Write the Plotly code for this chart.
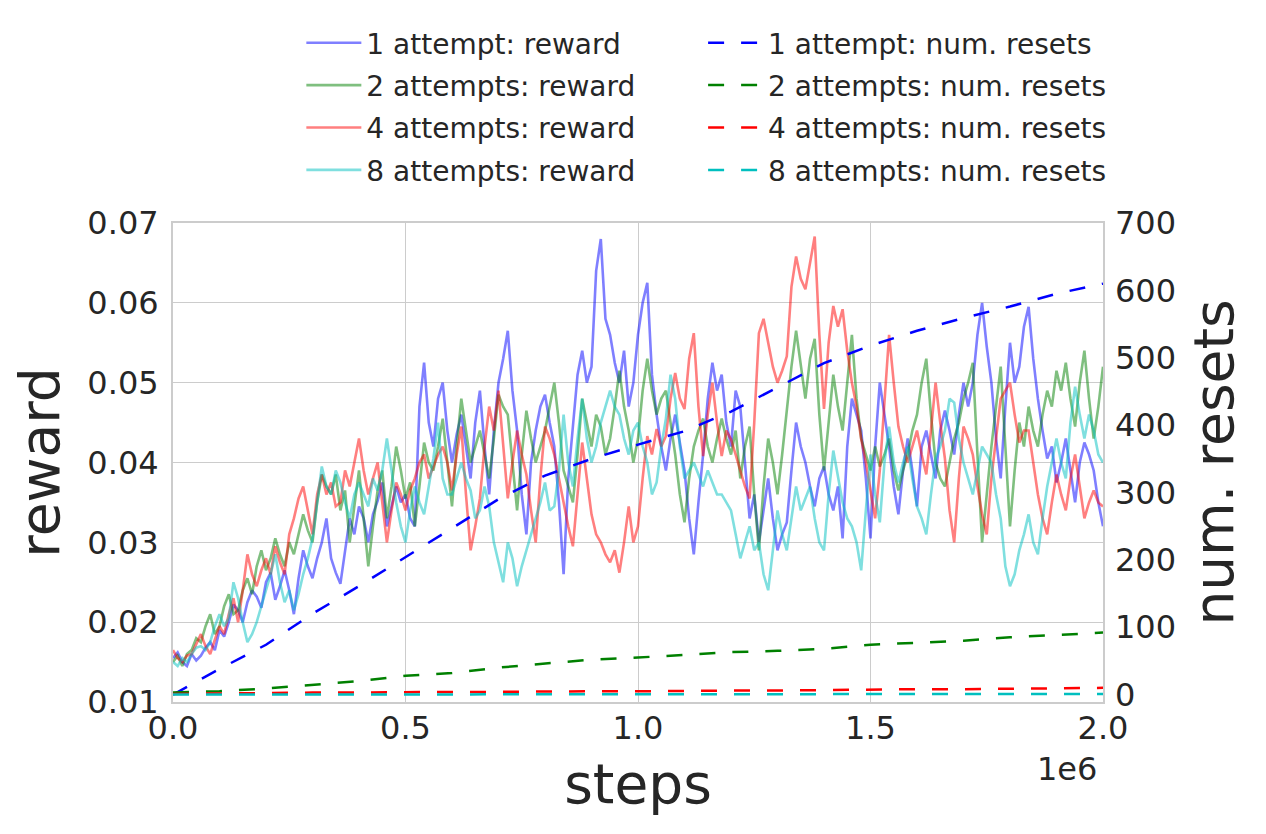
import plotly.graph_objects as go

# sample positions (environment steps)
steps = list(range(0, 2_000_001, 10_000))
reset_steps = list(range(0, 2_000_001, 100_000))

labels = ["1 attempt", "2 attempts", "4 attempts", "8 attempts"]

reward_1 = [
    .0155, .0162, .0150, .0145, .0160, .0152, .0158, .0168, .0175, .0165,
    .0190, .0182, .0200, .0222, .0215, .0200, .0225, .0240, .0232, .0218,
    .0250, .0262, .0228, .0245, .0265, .0240, .0210, .0255, .0290, .0270,
    .0255, .0280, .0300, .0330, .0280, .0262, .0248, .0290, .0330, .0310,
    .0345, .0330, .0300, .0335, .0352, .0375, .0320, .0345, .0370, .0350,
    .0360, .0330, .0320, .0470, .0525, .0450, .0420, .0480, .0500, .0440,
    .0400, .0435, .0460, .0420, .0380, .0450, .0490, .0420, .0360, .0440,
    .0500, .0530, .0565, .0490, .0440, .0360, .0310, .0400, .0440, .0470,
    .0485, .0450, .0420, .0350, .0260, .0380, .0445, .0510, .0540, .0500,
    .0520, .0640, .0680, .0580, .0560, .0525, .0500, .0540, .0470, .0500,
    .0560, .0600, .0625, .0510, .0460, .0420, .0390, .0430, .0460, .0425,
    .0390, .0330, .0285, .0350, .0410, .0480, .0525, .0490, .0510, .0450,
    .0420, .0490, .0470, .0400, .0330, .0360, .0300, .0340, .0380, .0330,
    .0290, .0310, .0325, .0390, .0450, .0420, .0400, .0370, .0345, .0380,
    .0395, .0360, .0340, .0370, .0305, .0420, .0480, .0460, .0440, .0380,
    .0305, .0420, .0500, .0460, .0420, .0370, .0335, .0390, .0430, .0390,
    .0345, .0420, .0440, .0410, .0380, .0440, .0465, .0440, .0410, .0460,
    .0500, .0470, .0500, .0560, .0600, .0545, .0500, .0430, .0380, .0470,
    .0550, .0500, .0520, .0570, .0595, .0530, .0480, .0440, .0405, .0420,
    .0375, .0400, .0430, .0390, .0350, .0400, .0425, .0410, .0390, .0350,
    .0320,
]
reward_2 = [
    .0150, .0158, .0145, .0160, .0165, .0180, .0175, .0195, .0210, .0185,
    .0195, .0220, .0235, .0210, .0215, .0240, .0255, .0235, .0270, .0290,
    .0265, .0280, .0305, .0285, .0270, .0300, .0285, .0310, .0335, .0315,
    .0300, .0350, .0385, .0370, .0360, .0385, .0340, .0365, .0300, .0345,
    .0390, .0330, .0270, .0320, .0365, .0390, .0330, .0370, .0420, .0390,
    .0355, .0375, .0320, .0370, .0425, .0400, .0390, .0420, .0455, .0400,
    .0345, .0420, .0480, .0440, .0400, .0420, .0440, .0410, .0380, .0430,
    .0485, .0470, .0460, .0400, .0340, .0410, .0465, .0430, .0400, .0420,
    .0440, .0470, .0500, .0450, .0390, .0370, .0350, .0410, .0480, .0450,
    .0420, .0460, .0445, .0410, .0430, .0470, .0515, .0470, .0440, .0400,
    .0430, .0490, .0530, .0490, .0460, .0480, .0490, .0450, .0410, .0360,
    .0325, .0380, .0420, .0440, .0455, .0420, .0400, .0430, .0455, .0430,
    .0410, .0440, .0380, .0420, .0445, .0360, .0290, .0370, .0430, .0400,
    .0360, .0410, .0465, .0520, .0565, .0520, .0480, .0530, .0555, .0460,
    .0390, .0450, .0510, .0470, .0440, .0500, .0560, .0480, .0430, .0410,
    .0390, .0420, .0395, .0410, .0430, .0390, .0365, .0390, .0410, .0440,
    .0460, .0500, .0530, .0460, .0400, .0380, .0370, .0400, .0430, .0450,
    .0480, .0500, .0525, .0410, .0300, .0360, .0420, .0470, .0520, .0420,
    .0320, .0390, .0450, .0420, .0470, .0440, .0420, .0460, .0490, .0470,
    .0515, .0490, .0525, .0480, .0445, .0500, .0540, .0480, .0430, .0470,
    .0520,
]
reward_4 = [
    .0165, .0155, .0150, .0158, .0160, .0172, .0185, .0170, .0160, .0178,
    .0195, .0185, .0210, .0230, .0200, .0240, .0285, .0260, .0245, .0265,
    .0280, .0260, .0295, .0275, .0260, .0310, .0330, .0355, .0370, .0340,
    .0310, .0360, .0385, .0360, .0375, .0345, .0350, .0390, .0370, .0400,
    .0430, .0390, .0360, .0380, .0400, .0350, .0300, .0340, .0375, .0360,
    .0340, .0365, .0380, .0400, .0410, .0380, .0395, .0410, .0420, .0400,
    .0365, .0410, .0445, .0360, .0290, .0320, .0355, .0420, .0470, .0440,
    .0490, .0420, .0355, .0400, .0440, .0410, .0385, .0340, .0300, .0380,
    .0445, .0430, .0410, .0380, .0350, .0320, .0295, .0360, .0425, .0380,
    .0335, .0310, .0300, .0285, .0275, .0290, .0262, .0300, .0345, .0300,
    .0320, .0380, .0433, .0410, .0442, .0420, .0433, .0480, .0512, .0480,
    .0467, .0530, .0562, .0470, .0408, .0460, .0500, .0450, .0408, .0440,
    .0429, .0410, .0390, .0370, .0355, .0450, .0562, .0580, .0550, .0520,
    .0500, .0515, .0533, .0620, .0658, .0630, .0617, .0650, .0683, .0560,
    .0467, .0550, .0596, .0570, .0592, .0540, .0500, .0470, .0429, .0400,
    .0367, .0330, .0390, .0480, .0560, .0500, .0445, .0420, .0400, .0420,
    .0440, .0410, .0385, .0440, .0500, .0450, .0405, .0340, .0300, .0380,
    .0445, .0430, .0410, .0370, .0335, .0310, .0380, .0430, .0480, .0490,
    .0500, .0460, .0425, .0440, .0440, .0400, .0360, .0330, .0310, .0350,
    .0385, .0360, .0340, .0380, .0410, .0370, .0330, .0350, .0365, .0350,
    .0345,
]
reward_8 = [
    .0150, .0145, .0155, .0150, .0160, .0168, .0170, .0165, .0175, .0195,
    .0210, .0195, .0205, .0250, .0230, .0200, .0175, .0185, .0200, .0220,
    .0240, .0260, .0285, .0250, .0225, .0240, .0215, .0235, .0260, .0280,
    .0305, .0350, .0395, .0370, .0360, .0390, .0375, .0350, .0330, .0360,
    .0375, .0360, .0345, .0380, .0365, .0390, .0430, .0390, .0350, .0320,
    .0300, .0340, .0370, .0350, .0335, .0370, .0405, .0450, .0380, .0360,
    .0360, .0380, .0400, .0380, .0365, .0330, .0340, .0370, .0345, .0300,
    .0275, .0250, .0300, .0280, .0245, .0270, .0290, .0310, .0330, .0350,
    .0375, .0340, .0345, .0390, .0460, .0400, .0370, .0430, .0480, .0430,
    .0400, .0420, .0450, .0470, .0490, .0470, .0460, .0430, .0410, .0440,
    .0450, .0420, .0400, .0360, .0375, .0420, .0455, .0510, .0480, .0420,
    .0380, .0390, .0400, .0385, .0370, .0390, .0375, .0360, .0360, .0350,
    .0340, .0310, .0280, .0300, .0320, .0290, .0300, .0260, .0240, .0290,
    .0340, .0310, .0290, .0330, .0370, .0340, .0355, .0370, .0330, .0300,
    .0290, .0360, .0415, .0380, .0350, .0330, .0320, .0300, .0265, .0340,
    .0410, .0360, .0325, .0400, .0445, .0400, .0375, .0400, .0420, .0380,
    .0345, .0330, .0310, .0360, .0405, .0420, .0440, .0480, .0475, .0430,
    .0400, .0380, .0360, .0390, .0420, .0410, .0400, .0360, .0330, .0270,
    .0245, .0260, .0290, .0310, .0335, .0300, .0285, .0330, .0370, .0400,
    .0430, .0400, .0380, .0450, .0495, .0460, .0430, .0460, .0440, .0410,
    .0400,
]

resets_1 = [0, 38, 74, 120, 161, 204, 246, 290, 325, 350, 371,
            391, 420, 456, 492, 518, 540, 559, 576, 595, 610]
resets_2 = [3, 5, 9, 14, 20, 28, 32, 40, 46, 52, 55,
            59, 63, 65, 68, 74, 77, 80, 85, 89, 92]
resets_4 = [1, 2, 2, 3, 3, 4, 4, 4, 5, 5, 5,
            6, 6, 6, 7, 7, 8, 8, 9, 9, 10]
resets_8 = [0, 0, 0, 0, 0, 0, 0, 1, 1, 1, 1,
            1, 1, 1, 1, 1, 1, 1, 1, 1, 1]

rewards = [reward_1, reward_2, reward_4, reward_8]
resets = [resets_1, resets_2, resets_4, resets_8]
colors = ["0,0,255", "0,128,0", "255,0,0", "0,191,191"]

FONT = "DejaVu Sans"
TXT = "#262626"

fig = go.Figure()

for lab, r, c in zip(labels, rewards, colors):
    fig.add_trace(go.Scatter(
        x=steps, y=r, mode="lines", name=f"{lab}: reward",
        line=dict(color=f"rgba({c},0.5)", width=2.6),
        legend="legend", legendgroup=f"{lab} r",
    ))

for lab, r, c in zip(labels, resets, colors):
    fig.add_trace(go.Scatter(
        x=reset_steps, y=r, mode="lines", name=f"{lab}: num. resets",
        line=dict(color=f"rgb({c})", width=2.5, dash="16px,17px"),
        yaxis="y2", legend="legend2", legendgroup=f"{lab} n",
    ))

legend_style = dict(
    font=dict(family=FONT, size=28, color=TXT),
    bgcolor="rgba(0,0,0,0)", tracegroupgap=3, itemwidth=55,
    yanchor="top", y=1.425, xanchor="left",
)

# the page body adds an 8px offset, so the figure is 8px smaller than the window
fig.update_layout(
    width=1258, height=826, autosize=False,
    margin=dict(l=165, r=163, t=214, b=132),
    paper_bgcolor="white", plot_bgcolor="white",
    font=dict(family=FONT, color=TXT),
    legend=dict(x=0.138, **legend_style),
    legend2=dict(x=0.57, **legend_style),
    xaxis=dict(
        range=[0, 2_000_000],
        tickvals=[0, 500_000, 1_000_000, 1_500_000, 2_000_000],
        ticktext=["0.0", "0.5", "1.0", "1.5", "2.0"],
        tickfont=dict(size=32, color=TXT), ticklabelstandoff=-3,
        showgrid=True, gridcolor="#cccccc", gridwidth=1,
        showline=True, mirror=True, linecolor="#cccccc", linewidth=2,
        zeroline=False,
        title=dict(text="steps", font=dict(size=55, color=TXT), standoff=18),
    ),
    yaxis=dict(
        range=[0.01, 0.07], dtick=0.01, tickformat=".2f",
        tickfont=dict(size=32, color=TXT), ticklabelstandoff=6,
        showgrid=True, gridcolor="#cccccc", gridwidth=1,
        showline=True, mirror=True, linecolor="#cccccc", linewidth=2,
        zeroline=False,
        title=dict(text="reward", font=dict(size=55, color=TXT), standoff=10),
    ),
    yaxis2=dict(
        overlaying="y", side="right",
        range=[-11, 700], tickvals=[0, 100, 200, 300, 400, 500, 600, 700],
        tickfont=dict(size=32, color=TXT), ticklabelstandoff=11,
        showgrid=False, zeroline=False, showline=False,
        title=dict(text="num. resets", font=dict(size=55, color=TXT), standoff=19),
    ),
    annotations=[dict(
        text="1e6", xref="paper", yref="paper", x=0.9957, y=-0.096,
        xanchor="right", yanchor="top", showarrow=False,
        font=dict(family=FONT, size=32, color=TXT),
    )],
)

fig.write_html("out.html")
